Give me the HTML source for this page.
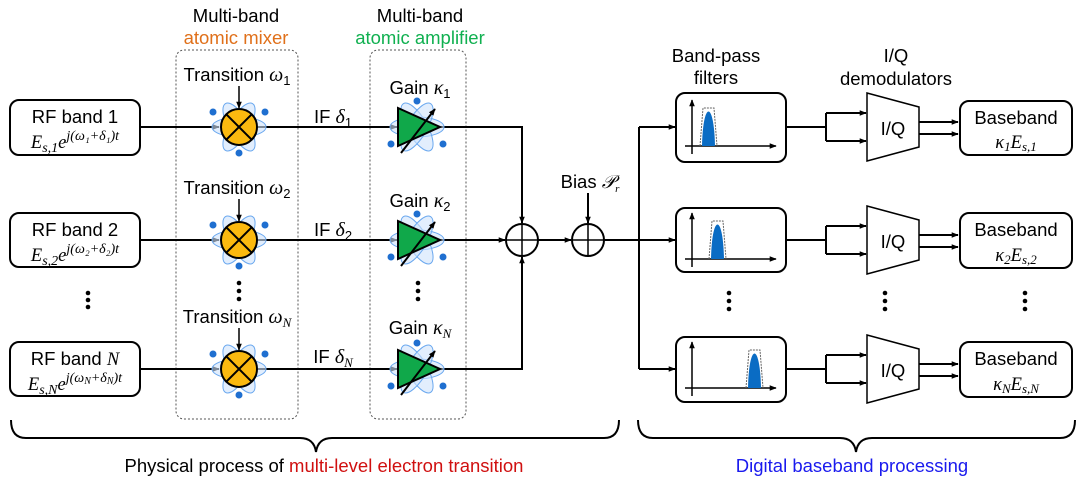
<!DOCTYPE html>
<html><head><meta charset="utf-8"><style>
html,body{margin:0;padding:0;background:#fff}
svg{display:block}
text{font-family:"Liberation Sans",sans-serif;font-size:18.5px;fill:#000}
.m{font-family:"Liberation Serif",serif;font-style:italic}
</style></head><body>
<svg width="1080" height="479" viewBox="0 0 1080 479" xmlns="http://www.w3.org/2000/svg">
<defs>
<marker id="ah" viewBox="0 0 10 10" refX="9" refY="5" markerWidth="7" markerHeight="7" orient="auto-start-reverse" markerUnits="userSpaceOnUse"><path d="M0,1 L10,5 L0,9 z" fill="#000"/></marker>
<g id="atom">
 <g fill="#cfe3fb" fill-opacity="0.6" stroke="#6aa8ef" stroke-width="1">
  <ellipse rx="27" ry="10"/>
  <ellipse rx="27" ry="10" transform="rotate(60)"/>
  <ellipse rx="27" ry="10" transform="rotate(120)"/>
 </g>
 <g fill="#1f6fd0"><circle cx="-26" cy="-15" r="3.5"/><circle cx="26" cy="-15" r="3.5"/><circle cx="0" cy="26" r="3.5"/></g>
</g>
<g id="atom2">
 <g fill="#cfe3fb" fill-opacity="0.6" stroke="#6aa8ef" stroke-width="1">
  <ellipse rx="27" ry="10"/>
  <ellipse rx="27" ry="10" transform="rotate(60)"/>
  <ellipse rx="27" ry="10" transform="rotate(120)"/>
 </g>
 <g fill="#1f6fd0"><circle cx="-26" cy="17" r="3.5"/><circle cx="26" cy="17" r="3.5"/><circle cx="0" cy="-26" r="3.5"/></g>
</g>
<g id="mixer">
 <use href="#atom"/>
 <circle r="18" fill="#fbb90f" stroke="#000" stroke-width="2"/>
 <path d="M-12.7,-12.7 L12.7,12.7 M12.7,-12.7 L-12.7,12.7" stroke="#000" stroke-width="2"/>
</g>
<g id="amp">
 <use href="#atom2"/>
 <path d="M-19,-19 L23,0 L-19,19 z" fill="#10a84a" stroke="#000" stroke-width="2"/>
 <line x1="-16" y1="26" x2="18" y2="-18" stroke="#000" stroke-width="2" marker-end="url(#ah)"/>
</g>
<g id="sum"><circle r="16" fill="none" stroke="#000" stroke-width="2"/><path d="M-16,0H16M0,-16V16" stroke="#000" stroke-width="1.5"/></g>
<g id="iq"><path d="M0,-34 L52,-20 L52,20 L0,34 z" fill="#fff" stroke="#000" stroke-width="1.5"/></g>
</defs>

<g stroke="#000" stroke-width="2" fill="none">
<rect x="10" y="100" width="130" height="55" rx="9"/>
<rect x="10" y="213" width="130" height="54" rx="9"/>
<rect x="10" y="342" width="130" height="54" rx="9"/>
</g>
<g stroke="#555" stroke-width="1" stroke-dasharray="2,2" fill="none">
<rect x="176" y="50" width="122" height="369" rx="8"/>
<rect x="370" y="50" width="96" height="369" rx="8"/>
</g>

<g stroke="#000" stroke-width="2" fill="none">
<line x1="140" y1="127" x2="219" y2="127" marker-end="url(#ah)"/>
<line x1="140" y1="240" x2="219" y2="240" marker-end="url(#ah)"/>
<line x1="140" y1="369" x2="219" y2="369" marker-end="url(#ah)"/>
<line x1="258" y1="127" x2="397" y2="127" marker-end="url(#ah)"/>
<line x1="258" y1="240" x2="397" y2="240" marker-end="url(#ah)"/>
<line x1="258" y1="369" x2="397" y2="369" marker-end="url(#ah)"/>
<polyline points="440,127 522,127 522,223" marker-end="url(#ah)"/>
<line x1="440" y1="240" x2="505" y2="240" marker-end="url(#ah)"/>
<polyline points="440,369 522,369 522,257" marker-end="url(#ah)"/>
<line x1="538" y1="240" x2="571" y2="240" marker-end="url(#ah)"/>
<line x1="588" y1="193" x2="588" y2="223" marker-end="url(#ah)"/>
<line x1="239" y1="86" x2="239" y2="108" stroke-width="1.5" marker-end="url(#ah)"/>
<line x1="239" y1="199" x2="239" y2="221" stroke-width="1.5" marker-end="url(#ah)"/>
<line x1="239" y1="328" x2="239" y2="350" stroke-width="1.5" marker-end="url(#ah)"/>
<line x1="604" y1="240" x2="639" y2="240"/>
<line x1="639" y1="127" x2="639" y2="369"/>
<line x1="639" y1="127" x2="675" y2="127" marker-end="url(#ah)"/>
<line x1="639" y1="240" x2="675" y2="240" marker-end="url(#ah)"/>
<line x1="639" y1="369" x2="675" y2="369" marker-end="url(#ah)"/>
</g>

<use href="#mixer" x="239" y="127"/>
<use href="#mixer" x="239" y="240"/>
<use href="#mixer" x="239" y="369"/>
<use href="#amp" x="417" y="127"/>
<use href="#amp" x="417" y="240"/>
<use href="#amp" x="417" y="369"/>
<use href="#sum" x="522" y="240"/>
<use href="#sum" x="588" y="240"/>

<g>
<rect x="676" y="93" width="110" height="69" rx="9" fill="none" stroke="#000" stroke-width="2"/>
<line x1="692" y1="154" x2="692" y2="100" stroke="#000" stroke-width="1.5" marker-end="url(#ah)"/>
<line x1="685" y1="146" x2="776" y2="146" stroke="#000" stroke-width="1.5" marker-end="url(#ah)"/>
<path d="M700,146 L703,108 L714,108 L717,146" fill="none" stroke="#666" stroke-width="1" stroke-dasharray="2,1"/>
<path d="M702,146 C703,100 714,100 715,146 z" fill="#0a6cc4"/>
<line x1="786" y1="127" x2="826" y2="127" stroke="#000" stroke-width="2"/>
<line x1="826" y1="113" x2="826" y2="141" stroke="#000" stroke-width="2"/>
<line x1="826" y1="113" x2="866" y2="113" stroke="#000" stroke-width="2" marker-end="url(#ah)"/>
<line x1="826" y1="141" x2="866" y2="141" stroke="#000" stroke-width="2" marker-end="url(#ah)"/>
<use href="#iq" x="867" y="127"/>
<line x1="919" y1="122" x2="958" y2="122" stroke="#000" stroke-width="2" marker-end="url(#ah)"/>
<line x1="919" y1="134" x2="958" y2="134" stroke="#000" stroke-width="2" marker-end="url(#ah)"/>
<rect x="960" y="101" width="112" height="54" rx="9" fill="none" stroke="#000" stroke-width="2"/>
</g>
<g transform="translate(0,113)">
<rect x="676" y="95" width="110" height="64" rx="9" fill="none" stroke="#000" stroke-width="2"/>
<line x1="692" y1="154" x2="692" y2="100" stroke="#000" stroke-width="1.5" marker-end="url(#ah)"/>
<line x1="685" y1="146" x2="776" y2="146" stroke="#000" stroke-width="1.5" marker-end="url(#ah)"/>
<path d="M709,146 L712,108 L723,108 L726,146" fill="none" stroke="#666" stroke-width="1" stroke-dasharray="2,1"/>
<path d="M711,146 C712,100 723,100 724,146 z" fill="#0a6cc4"/>
<line x1="786" y1="127" x2="826" y2="127" stroke="#000" stroke-width="2"/>
<line x1="826" y1="113" x2="826" y2="141" stroke="#000" stroke-width="2"/>
<line x1="826" y1="113" x2="866" y2="113" stroke="#000" stroke-width="2" marker-end="url(#ah)"/>
<line x1="826" y1="141" x2="866" y2="141" stroke="#000" stroke-width="2" marker-end="url(#ah)"/>
<use href="#iq" x="867" y="127"/>
<line x1="919" y1="122" x2="958" y2="122" stroke="#000" stroke-width="2" marker-end="url(#ah)"/>
<line x1="919" y1="134" x2="958" y2="134" stroke="#000" stroke-width="2" marker-end="url(#ah)"/>
<rect x="960" y="100" width="112" height="55" rx="9" fill="none" stroke="#000" stroke-width="2"/>
</g>
<g transform="translate(0,242)">
<rect x="676" y="95" width="110" height="65" rx="9" fill="none" stroke="#000" stroke-width="2"/>
<line x1="692" y1="154" x2="692" y2="100" stroke="#000" stroke-width="1.5" marker-end="url(#ah)"/>
<line x1="685" y1="146" x2="776" y2="146" stroke="#000" stroke-width="1.5" marker-end="url(#ah)"/>
<path d="M746,146 L749,108 L760,108 L763,146" fill="none" stroke="#666" stroke-width="1" stroke-dasharray="2,1"/>
<path d="M748,146 C749,100 760,100 761,146 z" fill="#0a6cc4"/>
<line x1="786" y1="127" x2="826" y2="127" stroke="#000" stroke-width="2"/>
<line x1="826" y1="113" x2="826" y2="141" stroke="#000" stroke-width="2"/>
<line x1="826" y1="113" x2="866" y2="113" stroke="#000" stroke-width="2" marker-end="url(#ah)"/>
<line x1="826" y1="141" x2="866" y2="141" stroke="#000" stroke-width="2" marker-end="url(#ah)"/>
<use href="#iq" x="867" y="127"/>
<line x1="919" y1="122" x2="958" y2="122" stroke="#000" stroke-width="2" marker-end="url(#ah)"/>
<line x1="919" y1="134" x2="958" y2="134" stroke="#000" stroke-width="2" marker-end="url(#ah)"/>
<rect x="960" y="100" width="112" height="55" rx="9" fill="none" stroke="#000" stroke-width="2"/>
</g>

<g fill="#000">
<circle cx="88" cy="293" r="2.3"/><circle cx="88" cy="300" r="2.3"/><circle cx="88" cy="307" r="2.3"/>
<circle cx="239" cy="283" r="2.3"/><circle cx="239" cy="291" r="2.3"/><circle cx="239" cy="299" r="2.3"/>
<circle cx="418" cy="283" r="2.3"/><circle cx="418" cy="291" r="2.3"/><circle cx="418" cy="299" r="2.3"/>
<circle cx="729" cy="293" r="2.3"/><circle cx="729" cy="301" r="2.3"/><circle cx="729" cy="309" r="2.3"/>
<circle cx="885" cy="293" r="2.3"/><circle cx="885" cy="301" r="2.3"/><circle cx="885" cy="309" r="2.3"/>
<circle cx="1025" cy="293" r="2.3"/><circle cx="1025" cy="301" r="2.3"/><circle cx="1025" cy="309" r="2.3"/>
</g>

<g stroke="#000" stroke-width="2" fill="none">
<path d="M11,420 Q11,438 26,438 L300,438 Q314,438 316,452 Q318,438 332,438 L604,438 Q619,438 619,420"/>
<path d="M638,420 Q638,438 653,438 L840,438 Q854,438 856,452 Q858,438 872,438 L1060,438 Q1075,438 1075,420"/>
</g>

<g text-anchor="middle">
<text x="236" y="22">Multi-band</text>
<text x="236" y="44" style="fill:#e0701a">atomic mixer</text>
<text x="420" y="22">Multi-band</text>
<text x="420" y="44" style="fill:#10b050">atomic amplifier</text>
<text x="716" y="62">Band-pass</text>
<text x="716" y="84">filters</text>
<text x="896" y="62">I/Q</text>
<text x="896" y="85">demodulators</text>
<text x="75" y="123">RF band 1</text>
<text x="75" y="236">RF band 2</text>
<text x="75" y="365">RF band <tspan class="m">N</tspan></text>
<text x="75" y="148" class="m" font-size="19">E<tspan font-size="14" dy="4">s,1</tspan><tspan dy="-4">e</tspan><tspan font-size="14" dy="-8">j(ω₁+δ₁)t</tspan></text>
<text x="75" y="261" class="m" font-size="19">E<tspan font-size="14" dy="4">s,2</tspan><tspan dy="-4">e</tspan><tspan font-size="14" dy="-8">j(ω₂+δ₂)t</tspan></text>
<text x="75" y="390" class="m" font-size="19">E<tspan font-size="14" dy="4">s,N</tspan><tspan dy="-4">e</tspan><tspan font-size="14" dy="-8">j(ω<tspan font-size="10" dy="2">N</tspan><tspan dy="-2">+δ</tspan><tspan font-size="10" dy="2">N</tspan><tspan dy="-2">)t</tspan></tspan></text>
<text x="237" y="81">Transition <tspan class="m" font-size="20">ω</tspan><tspan font-size="13" dy="4">1</tspan></text>
<text x="237" y="194">Transition <tspan class="m" font-size="20">ω</tspan><tspan font-size="13" dy="4">2</tspan></text>
<text x="237" y="323">Transition <tspan class="m" font-size="20">ω</tspan><tspan font-size="13" dy="4" class="m">N</tspan></text>
<text x="420" y="94">Gain <tspan class="m" font-size="20">κ</tspan><tspan font-size="13" dy="4">1</tspan></text>
<text x="420" y="207">Gain <tspan class="m" font-size="20">κ</tspan><tspan font-size="13" dy="4">2</tspan></text>
<text x="420" y="334">Gain <tspan class="m" font-size="20">κ</tspan><tspan font-size="13" dy="4" class="m">N</tspan></text>
<text x="333" y="123">IF <tspan class="m" font-size="20">δ</tspan><tspan font-size="13" dy="4">1</tspan></text>
<text x="333" y="236">IF <tspan class="m" font-size="20">δ</tspan><tspan font-size="13" dy="4">2</tspan></text>
<text x="333" y="363">IF <tspan class="m" font-size="20">δ</tspan><tspan font-size="13" dy="4" class="m">N</tspan></text>
<text x="590" y="188">Bias <tspan class="m" style="font-family:'Liberation Serif',serif">𝒫</tspan><tspan font-size="11" dy="4" class="m">r</tspan></text>
<text x="1016" y="124">Baseband</text>
<text x="1016" y="236">Baseband</text>
<text x="1016" y="365">Baseband</text>
<text x="1016" y="148" class="m" font-size="19">κ<tspan font-size="13" dy="3">1</tspan><tspan dy="-3">E</tspan><tspan font-size="13" dy="3">s,1</tspan></text>
<text x="1016" y="261" class="m" font-size="19">κ<tspan font-size="13" dy="3">2</tspan><tspan dy="-3">E</tspan><tspan font-size="13" dy="3">s,2</tspan></text>
<text x="1016" y="390" class="m" font-size="19">κ<tspan font-size="13" dy="3">N</tspan><tspan dy="-3">E</tspan><tspan font-size="13" dy="3">s,N</tspan></text>
<text x="893" y="135">I/Q</text>
<text x="893" y="248">I/Q</text>
<text x="893" y="377">I/Q</text>
<text x="324" y="472" font-size="19">Physical process of <tspan style="fill:#d01010">multi-level electron transition</tspan></text>
<text x="852" y="472" font-size="19" style="fill:#1a1aee">Digital baseband processing</text>
</g>
</svg>
</body></html>
